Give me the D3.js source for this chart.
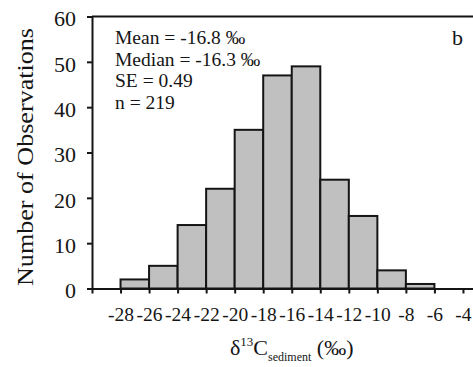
<!DOCTYPE html>
<html>
<head>
<meta charset="utf-8">
<script src="https://cdn.jsdelivr.net/npm/d3@7"></script>
<style>
  html, body { margin: 0; padding: 0; background: #fff; }
  svg { display: block; }
</style>
</head>
<body>
<svg id="chart" width="473" height="367"></svg>
<script>
// Histogram of sediment δ13C values (2‰ bins)
const binStarts = [-28, -26, -24, -22, -20, -18, -16, -14, -12, -10, -8];
const counts    = [2, 5, 14, 22, 35, 47, 49, 24, 16, 4, 1];
const binWidth = 2;
const xTicks = [-30, -28, -26, -24, -22, -20, -18, -16, -14, -12, -10, -8, -6, -4];
const yTicks = [0, 10, 20, 30, 40, 50, 60];
const statLines = ["Mean = -16.8 \u2030", "Median = -16.3 \u2030", "SE = 0.49", "n = 219"];
const panelLabel = "b";

const svg = d3.select("#chart");
const plotLeft = 92, plotTop = 16.5, plotBottom = 288.5, plotRight = 491.5;
const ink = "#151515";
const serif = "'Liberation Serif', 'Times New Roman', serif";

const x = d3.scaleLinear().domain([-30, -2]).range([plotLeft, plotRight]);
const y = d3.scaleLinear().domain([0, 60]).range([plotBottom, plotTop]);

// bars
svg.append("g")
  .selectAll("rect")
  .data(binStarts.map((s, i) => ({ s, c: counts[i] })))
  .join("rect")
  .attr("x", d => x(d.s))
  .attr("y", d => y(d.c))
  .attr("width", d => x(d.s + binWidth) - x(d.s))
  .attr("height", d => y(0) - y(d.c))
  .attr("fill", "#c0c0c0")
  .attr("stroke", ink)
  .attr("stroke-width", 2);

// top frame line
svg.append("line")
  .attr("x1", plotLeft).attr("x2", plotRight)
  .attr("y1", plotTop).attr("y2", plotTop)
  .attr("stroke", ink).attr("stroke-width", 2);

// y axis
const yAxis = svg.append("g")
  .attr("transform", `translate(${plotLeft},0)`)
  .call(d3.axisLeft(y).tickValues(yTicks).tickSize(5).tickPadding(11).tickSizeOuter(0));
yAxis.select(".domain").attr("stroke", ink).attr("stroke-width", 2);
yAxis.selectAll(".tick line").attr("stroke", ink).attr("stroke-width", 2);
yAxis.selectAll(".tick text")
  .style("font-family", serif)
  .style("font-size", "22px")
  .attr("fill", ink)
  .attr("dy", "0.42em");

// x axis (plain hyphen for negative labels)
const xAxis = svg.append("g")
  .attr("transform", `translate(0,${plotBottom})`)
  .call(d3.axisBottom(x).tickValues(xTicks).tickSize(5).tickPadding(14).tickSizeOuter(0)
    .tickFormat(d => d === -30 ? "" : String(d)));
xAxis.select(".domain").attr("stroke", ink).attr("stroke-width", 2);
xAxis.selectAll(".tick line").attr("stroke", ink).attr("stroke-width", 2);
xAxis.selectAll(".tick text")
  .style("font-family", serif)
  .style("font-size", "19.5px")
  .attr("fill", ink);

// summary statistics
svg.append("g")
  .selectAll("text")
  .data(statLines)
  .join("text")
  .attr("x", 115)
  .attr("y", (d, i) => 44 + i * 21.5)
  .style("font-family", serif)
  .style("font-size", "19.5px")
  .attr("fill", ink)
  .text(d => d);

// panel label
svg.append("text")
  .attr("x", 452).attr("y", 45)
  .style("font-family", serif)
  .style("font-size", "22px")
  .attr("fill", ink)
  .text(panelLabel);

// y axis title
svg.append("text")
  .attr("transform", "translate(33,157) rotate(-90)")
  .attr("text-anchor", "middle")
  .style("font-family", serif)
  .style("font-size", "23px")
  .attr("fill", ink)
  .attr("textLength", 258)
  .attr("lengthAdjust", "spacingAndGlyphs")
  .text("Number of Observations");

// x axis title: δ13C(sediment) (‰)
const xt = svg.append("text")
  .attr("x", (plotLeft + plotRight) / 2)
  .attr("y", 355)
  .attr("text-anchor", "middle")
  .style("font-family", serif)
  .style("font-size", "22px")
  .attr("fill", ink);
xt.append("tspan").text("\u03b4");
xt.append("tspan").attr("dy", -9).style("font-size", "13px").text("13");
xt.append("tspan").attr("dy", 9).text("C");
xt.append("tspan").attr("dy", 6).style("font-size", "12px").text("sediment");
xt.append("tspan").attr("dy", -6).text(" (\u2030)");
</script>
</body>
</html>
